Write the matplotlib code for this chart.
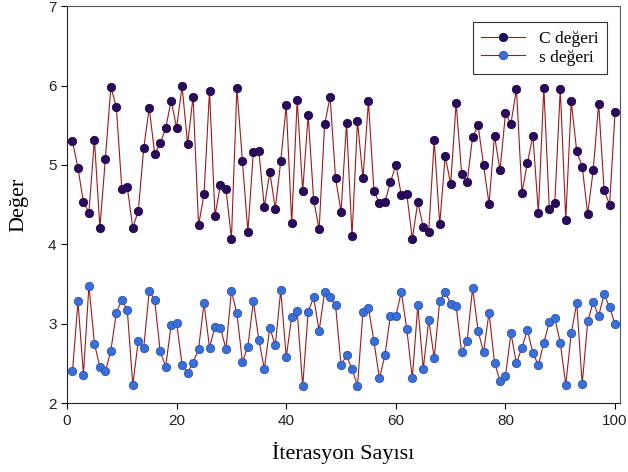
import matplotlib.pyplot as plt
import numpy as np

iterations = list(range(1, 101))

c_values = [5.30, 4.96, 4.53, 4.40, 5.32, 4.21, 5.08, 5.98, 5.73, 4.70,
            4.72, 4.21, 4.42, 5.21, 5.72, 5.14, 5.27, 5.46, 5.81, 5.47,
            5.99, 5.26, 5.86, 4.24, 4.63, 5.93, 4.36, 4.75, 4.70, 4.07,
            5.97, 5.05, 4.16, 5.16, 5.17, 4.47, 4.91, 4.45, 5.05, 5.75,
            4.27, 5.82, 4.67, 5.63, 4.56, 4.19, 5.51, 5.86, 4.83, 4.41,
            5.53, 4.10, 5.55, 4.83, 5.80, 4.67, 4.52, 4.53, 4.78, 5.00,
            4.62, 4.63, 4.07, 4.53, 4.22, 4.16, 5.31, 4.25, 5.11, 4.76,
            5.78, 4.89, 4.78, 5.35, 5.50, 5.00, 4.51, 5.37, 4.93, 5.65,
            5.52, 5.96, 4.65, 5.02, 5.37, 4.40, 5.97, 4.45, 4.52, 5.96,
            4.31, 5.80, 5.17, 4.98, 4.38, 4.93, 5.77, 4.68, 4.50, 5.67]

s_values = [2.40, 3.28, 2.36, 3.48, 2.75, 2.45, 2.40, 2.66, 3.14, 3.30,
            3.17, 2.23, 2.78, 2.70, 3.41, 3.30, 2.65, 2.46, 2.98, 3.01,
            2.48, 2.38, 2.51, 2.68, 3.26, 2.70, 2.96, 2.95, 2.68, 3.41,
            3.13, 2.52, 2.71, 3.28, 2.80, 2.43, 2.95, 2.73, 3.42, 2.58,
            3.09, 3.16, 2.21, 3.15, 3.33, 2.91, 3.40, 3.33, 3.23, 2.48,
            2.60, 2.43, 2.22, 3.15, 3.20, 2.78, 2.31, 2.60, 3.10, 3.10,
            3.40, 2.93, 2.31, 3.23, 2.43, 3.05, 2.57, 3.28, 3.40, 3.25,
            3.22, 2.64, 2.78, 3.45, 2.91, 2.64, 3.14, 2.51, 2.28, 2.34,
            2.88, 2.50, 2.70, 2.92, 2.63, 2.48, 2.76, 3.02, 3.07, 2.76,
            2.23, 2.88, 3.26, 2.24, 3.03, 3.27, 3.10, 3.37, 3.21, 2.99]

fig = plt.figure(figsize=(6.28, 4.72), dpi=100)
ax = fig.add_axes([0.1067, 0.146, 0.8806, 0.841])

line_color = '#9b1b1b'
ax.plot(iterations, c_values, color=line_color, linewidth=0.8,
        marker='o', markersize=6, markerfacecolor='#2a0a5c',
        markeredgecolor='#1e0646', markeredgewidth=0.6, label='C değeri')
ax.plot(iterations, s_values, color=line_color, linewidth=0.8,
        marker='o', markersize=6, markerfacecolor='#3a6ed8',
        markeredgecolor='#2a55b0', markeredgewidth=0.6, label='s değeri')

# right spine sits a little past x=100 in the original
ax.set_xlim(0, 100.9)
ax.set_ylim(2, 7)
ax.set_xticks([0, 20, 40, 60, 80, 100])
ax.set_yticks([2, 3, 4, 5, 6, 7])
ax.tick_params(axis='both', direction='out', length=4, labelsize=11,
               top=False, right=False, labelcolor='#222222')
for lbl in ax.get_xticklabels() + ax.get_yticklabels():
    lbl.set_family('Liberation Sans')

for s in ax.spines.values():
    s.set_color('#555555')
ax.spines['left'].set_color('#222222')
ax.spines['bottom'].set_color('#222222')

ax.set_xlabel('İterasyon Sayısı', family='Liberation Serif', fontsize=16, labelpad=10)
ax.set_ylabel('Değer', family='Liberation Serif', fontsize=16, labelpad=14)

leg = ax.legend(loc='upper right', prop={'family': 'Liberation Serif', 'size': 12.5},
                frameon=True, fancybox=False, edgecolor='black',
                borderpad=0.5, handlelength=2.5, labelspacing=0.15,
                bbox_to_anchor=(0.992, 0.982))
leg.get_frame().set_linewidth(0.8)

fig.savefig('out.png', dpi=100)
